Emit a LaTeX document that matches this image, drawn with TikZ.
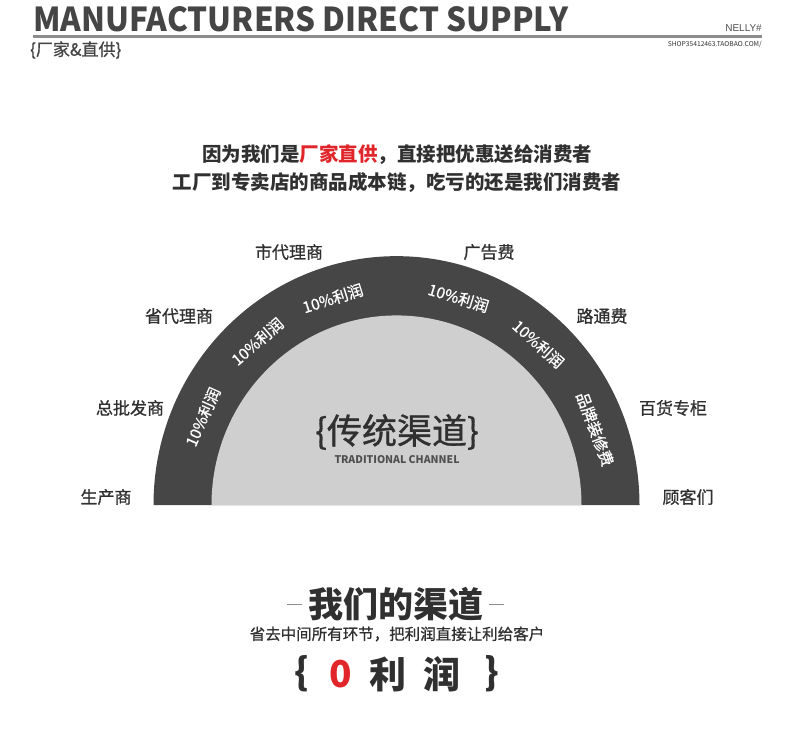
\documentclass[tikz,border=0pt]{standalone}
\usepackage{fontspec}
\setmainfont{Liberation Sans}
\newfontfamily\cjk{Noto Sans CJK SC}
\newfontfamily\cjkm[FakeBold=0.9]{Noto Sans CJK SC}

\tikzset{
  stage/.style={font=\cjkm\fontsize{17}{17}\selectfont, text=ink},
  cut/.style={font=\cjkm\fontsize{15.5}{16}\selectfont, text=white},
}

\begin{document}
\begin{tikzpicture}[
  x=1pt, y=1pt,
  font=\cjk,
  every node/.style={inner sep=0pt},
]

\definecolor{ring}{HTML}{464646}
\definecolor{core}{HTML}{CFCFCF}
\definecolor{ink}{HTML}{303030}
\definecolor{rule}{HTML}{8C8C8C}
\definecolor{hot}{HTML}{E0262B}

\def\cx{396.5}  % centre of the half disc
\def\cy{-505}
\def\ro{243}    % outer radius
\def\ri{185}    % inner radius
\def\rm{212}    % radius of the ring texts
\def\sq{1.022}  % the disc is a little taller than wide

\useasboundingbox (0,0) rectangle (790,-742);

% header
\node[anchor=base west, text=ink!90] (title) at (33,-31)
  {\resizebox{535pt}{25pt}{\bfseries MANUFACTURERS DIRECT SUPPLY}};
\draw[rule, line width=3pt] (33,-36.5) -- (762,-36.5);
\node[anchor=base east, font=\fontsize{10}{10}\selectfont, text=ink!85] (brand)
  at (762,-31) {NELLY\#};
\node[anchor=east, text=ink] (shop) at (762,-44.5)
  {\resizebox{94pt}{!}{\fontsize{6}{6}\selectfont SHOP35412463.TAOBAO.COM/}};
\node[anchor=west, font=\cjkm\fontsize{17}{17}\selectfont, text=ink!90] (tag)
  at (30,-50) {\{厂家\&直供\}};

% intro
\node[font=\cjk\bfseries\fontsize{19.5}{20}\selectfont, text=ink] (intro)
  at (397,-155) {因为我们是\textcolor{hot}{厂家直供}，直接把优惠送给消费者};
\node[font=\cjk\bfseries\fontsize{19.5}{20}\selectfont, text=ink] (chain)
  at (397,-183) {工厂到专卖店的商品成本链，吃亏的还是我们消费者};

% half disc
\fill[ring] (\cx-\ro,\cy) arc[start angle=180, end angle=0,
  x radius=\ro, y radius=\sq*\ro+0.5] -- cycle;
\fill[core] (\cx-\ri,\cy) arc[start angle=180, end angle=0,
  x radius=\ri, y radius=\sq*\ri+0.5] -- cycle;

% texts on the ring
\foreach \txt/\ang [count=\i] in {%
  {10\%利润}/156,
  {10\%利润}/131,
  {10\%利润}/107.5,
  {10\%利润}/73,
  {10\%利润}/48,
  {品牌装修费}/20.5%
}{
  \node[cut, rotate=\ang-90] (cut\i)
    at ({\cx+\rm*cos(\ang)},{\cy+\sq*\rm*sin(\ang)}) {\txt};
}

% stages round the disc
\foreach \txt/\x/\y [count=\i] in {%
  生产商/106/497,
  总批发商/130/408,
  省代理商/179/316,
  市代理商/289/252,
  广告费/489/252,
  路通费/602/316,
  百货专柜/673/408,
  顾客们/688/497%
}{
  \node[stage] (stage\i) at (\x,-\y) {\txt};
}

% centre of the disc
\node[font=\cjkm\fontsize{35}{35}\selectfont, text=ink] (trad) at (397,-432)
  {\{传统渠道\}};
\node[text=ink!85] (tradsub) at (397,-460)
  {\resizebox{125pt}{8pt}{\bfseries TRADITIONAL CHANNEL}};

% our channel
\node[font=\cjk\bfseries\fontsize{35}{35}\selectfont, text=ink] (ours)
  at (396,-604) {我们的渠道};
\draw[rule, line width=0.8pt] ([xshift=-6pt]ours.west |- 0,-604) -- ++(-15,0);
\draw[rule, line width=0.8pt] ([xshift=5pt]ours.east |- 0,-604) -- ++(15,0);
\node[font=\cjkm\fontsize{15.5}{16}\selectfont, text=ink] (motto)
  at (397,-634) {省去中间所有环节，把利润直接让利给客户};

% zero profit
\foreach \txt/\x/\c [count=\i] in {\{/301.5/ink, 0/341/hot, 利/388/ink,
  润/442/ink, \}/492/ink}{
  \node[font=\cjk\bfseries\fontsize{37}{37}\selectfont, text=\c] (zero\i)
    at (\x,-674) {\txt};
}

\end{tikzpicture}
\end{document}
